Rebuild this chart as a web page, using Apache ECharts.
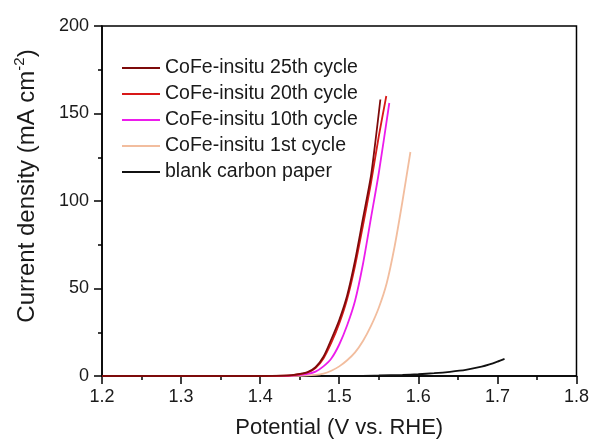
<!DOCTYPE html>
<html>
<head>
<meta charset="utf-8">
<script src="https://cdn.jsdelivr.net/npm/echarts@6/dist/echarts.min.js"></script>
<style>
html,body{margin:0;padding:0;background:#fff;}
#chart{width:592px;height:444px;}
</style>
</head>
<body>
<div id="chart"></div>
<script>
// Data: [potential (V vs RHE), current density (mA cm^-2)]
var seriesNames = ['CoFe-insitu 25th cycle', 'CoFe-insitu 20th cycle', 'CoFe-insitu 10th cycle', 'CoFe-insitu 1st cycle', 'blank carbon paper'];
var cycle25 = [[1.20,0],[1.30,0],[1.40,0],[1.43,0.2],[1.44,0.5],[1.45,1.2],[1.46,2.2],[1.47,5],[1.48,11],[1.49,21],[1.50,32],[1.51,46],[1.52,66],[1.53,90],[1.54,114],[1.546,135],[1.552,158]];
var cycle20 = [[1.20,0],[1.30,0],[1.40,0],[1.43,0.2],[1.44,0.4],[1.45,1.0],[1.46,2.0],[1.47,4.5],[1.48,10],[1.49,19],[1.50,30],[1.51,44],[1.52,63],[1.53,86],[1.54,110],[1.55,137],[1.5595,160]];
var cycle10 = [[1.20,0],[1.30,0],[1.40,0],[1.43,0.1],[1.44,0.2],[1.45,0.6],[1.46,1.2],[1.47,2.5],[1.48,5.5],[1.49,10],[1.50,18],[1.51,29],[1.52,43],[1.53,64],[1.54,90],[1.55,116],[1.5633,156]];
var cycle1 = [[1.20,0],[1.30,0],[1.40,0],[1.45,0.1],[1.47,0.6],[1.48,1.3],[1.49,3],[1.50,5.5],[1.51,9],[1.52,13.5],[1.53,20],[1.54,28.5],[1.55,39],[1.56,53],[1.57,74],[1.58,100],[1.59,128]];
var blank = [[1.20,0],[1.40,0],[1.50,0],[1.55,0.3],[1.58,0.6],[1.60,1.0],[1.62,1.6],[1.64,2.4],[1.66,3.5],[1.68,5.3],[1.69,6.6],[1.70,8.2],[1.709,9.8]];
var seriesData = [cycle25, cycle20, cycle10, cycle1, blank];
var seriesColors = ['#7d0a0a', '#d81818', '#ec1cec', '#f2bd9e', '#111111'];
var xTicks = {min: 1.2, max: 1.8, interval: 0.1};
var yTicks = {min: 0, max: 200, interval: 50};

var chart = echarts.init(document.getElementById('chart'), null, {renderer: 'canvas'});
var font = 'Liberation Sans, Arial, sans-serif';
var series = seriesNames.map(function (n, i) {
  return {
    name: n,
    type: 'line',
    data: seriesData[i],
    symbol: 'none',
    smooth: 0.25,
    lineStyle: {color: seriesColors[i], width: 1.8},
    itemStyle: {color: seriesColors[i]},
    z: 10 - i
  };
});
chart.setOption({
  animation: false,
  backgroundColor: '#fff',
  grid: {left: 102, right: 15, top: 26, bottom: 63, show: true, borderColor: '#000', borderWidth: 1.5},
  legend: {
    data: seriesNames,
    orient: 'vertical',
    left: 122,
    top: 58,
    padding: 0,
    icon: 'rect',
    itemWidth: 38,
    itemHeight: 1.8,
    itemGap: 6,
    textStyle: {fontFamily: font, fontSize: 19.5, color: '#1a1a1a'}
  },
  xAxis: {
    type: 'value',
    min: xTicks.min, max: xTicks.max, interval: xTicks.interval,
    name: 'Potential (V vs. RHE)',
    nameLocation: 'middle',
    nameGap: 41,
    nameTextStyle: {fontFamily: font, fontSize: 22, color: '#1a1a1a'},
    axisLine: {lineStyle: {color: '#000', width: 1.5}},
    axisTick: {inside: false, length: 8, lineStyle: {color: '#000', width: 1.5}},
    minorTick: {show: true, splitNumber: 2, length: 4, lineStyle: {color: '#000', width: 1.5}},
    splitLine: {show: false},
    axisLabel: {fontFamily: font, fontSize: 18, color: '#1a1a1a', margin: 12,
      formatter: function (v) { return v.toFixed(1); }}
  },
  yAxis: {
    type: 'value',
    min: yTicks.min, max: yTicks.max, interval: yTicks.interval,
    name: '{a|Current density (mA cm}{s|-2}{a|)}',
    nameLocation: 'middle',
    nameGap: 60,
    nameTextStyle: {
      fontFamily: font, fontSize: 24, color: '#1a1a1a',
      padding: [0, 0, 0, 30],
      rich: {
        a: {fontFamily: font, fontSize: 24, color: '#1a1a1a'},
        s: {fontFamily: font, fontSize: 15, color: '#1a1a1a', padding: [0, 0, 15, 0]}
      }
    },
    axisLine: {lineStyle: {color: '#000', width: 1.5}},
    axisTick: {inside: false, length: 8, lineStyle: {color: '#000', width: 1.5}},
    minorTick: {show: true, splitNumber: 2, length: 4, lineStyle: {color: '#000', width: 1.5}},
    splitLine: {show: false},
    axisLabel: {fontFamily: font, fontSize: 18, color: '#1a1a1a', margin: 13}
  },
  series: series
});
</script>
</body>
</html>
